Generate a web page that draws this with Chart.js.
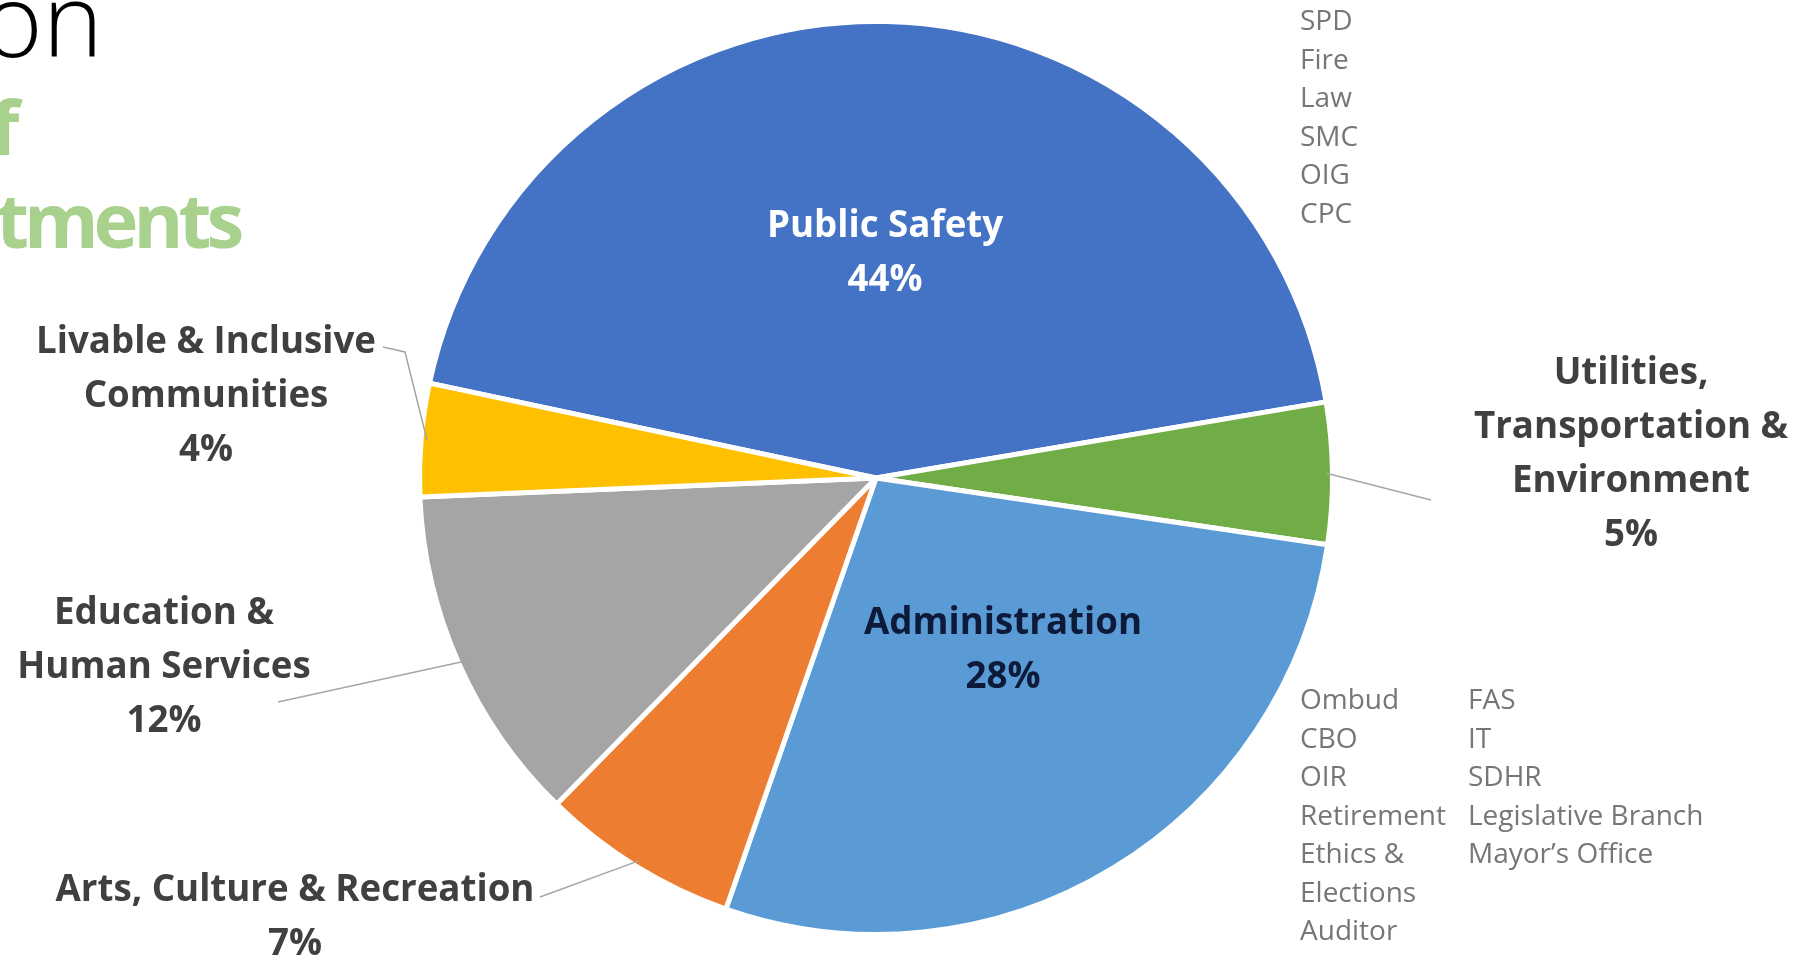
<!DOCTYPE html>
<html>
<head>
<meta charset="utf-8">
<script src="https://cdn.jsdelivr.net/npm/chart.js@4"></script>
<style>
    body { margin: 0; background: #fff; overflow: hidden; }
    #wrap { position: relative; width: 1814px; height: 958px; overflow: hidden; }
    #chart { position: absolute; left: 0; top: 0; }
    .title { position: absolute; line-height: 1; white-space: nowrap; font-family: 'Open Sans', sans-serif; }
    .dept { position: absolute; font-family: 'Open Sans', sans-serif; font-size: 28px; line-height: 38.5px; color: #767676; white-space: nowrap; }
</style>
</head>
<body>
<div id="wrap">
    <canvas id="chart" width="1814" height="958"></canvas>
    <div class="title" style="left:-17px; top:-33px; font-size:102px; font-weight:300; color:#000;">on</div>
    <div class="title" style="left:-10px; top:88px; font-size:76px; font-weight:700; color:#A9D18E;">f</div>
    <div class="title" style="left:-4px; top:181px; font-size:76px; font-weight:700; color:#A9D18E; letter-spacing:-5px;">tments</div>
    <div class="dept" id="psList" style="left:1300px; top:0px;"></div>
    <div class="dept" id="adminList1" style="left:1300px; top:679px;"></div>
    <div class="dept" id="adminList2" style="left:1468px; top:679px;"></div>
</div>
<script>
// slice data, clockwise starting with Public Safety
const categories = ['Public Safety', 'Utilities, Transportation & Environment', 'Administration',
    'Arts, Culture & Recreation', 'Education & Human Services', 'Livable & Inclusive Communities'];
const shares = [44, 5, 28, 7, 12, 4];
const labelLines = [
    ['Public Safety'],
    ['Utilities,', 'Transportation &', 'Environment'],
    ['Administration'],
    ['Arts, Culture & Recreation'],
    ['Education &', 'Human Services'],
    ['Livable & Inclusive', 'Communities']
];
const publicSafetyDepts = ['SPD', 'Fire', 'Law', 'SMC', 'OIG', 'CPC'];
const adminDeptsCol1 = ['Ombud', 'CBO', 'OIR', 'Retirement', 'Ethics &', 'Elections', 'Auditor'];
const adminDeptsCol2 = ['FAS', 'IT', 'SDHR', 'Legislative Branch', 'Mayor\u2019s Office'];

const sliceColors = ['#4472C4', '#70AD47', '#5B9BD5', '#ED7D31', '#A5A5A5', '#FFC000'];

// where each label block goes (first line centre) and its leader line, if any
const labelLayout = [
    { x: 885, y: 227, color: '#ffffff', leader: null },
    { x: 1631, y: 374, color: '#404040', leader: [[1431, 500]] },
    { x: 1003, y: 624, color: '#0e1a3a', leader: null },
    { x: 295, y: 891, color: '#404040', leader: [[540, 897]] },
    { x: 164, y: 614, color: '#404040', leader: [[278, 702]] },
    { x: 206, y: 343, color: '#404040', leader: [[383, 347], [405, 352]] }
];
const lineGap = 54;

document.getElementById('psList').innerHTML = publicSafetyDepts.join('<br>');
document.getElementById('adminList1').innerHTML = adminDeptsCol1.join('<br>');
document.getElementById('adminList2').innerHTML = adminDeptsCol2.join('<br>');

const sliceLabels = {
    id: 'sliceLabels',
    afterDatasetsDraw(chart) {
        const ctx = chart.ctx;
        const meta = chart.getDatasetMeta(0);
        meta.data.forEach((arc, i) => {
            const p = arc.getProps(['x', 'y', 'startAngle', 'endAngle', 'outerRadius'], true);
            const mid = (p.startAngle + p.endAngle) / 2;
            const lay = labelLayout[i];

            if (lay.leader) {
                const ex = p.x + Math.cos(mid) * (p.outerRadius - 6);
                const ey = p.y + Math.sin(mid) * (p.outerRadius - 6);
                ctx.save();
                ctx.strokeStyle = '#a6a6a6';
                ctx.lineWidth = 1.5;
                ctx.beginPath();
                ctx.moveTo(lay.leader[0][0], lay.leader[0][1]);
                lay.leader.slice(1).forEach(pt => ctx.lineTo(pt[0], pt[1]));
                ctx.lineTo(ex, ey);
                ctx.stroke();
                ctx.restore();
            }

            const lines = labelLines[i].concat([shares[i] + '%']);
            ctx.save();
            ctx.fillStyle = lay.color;
            ctx.font = 'bold 36.7px "Open Sans", sans-serif';
            ctx.textAlign = 'center';
            ctx.textBaseline = 'middle';
            lines.forEach((t, k) => ctx.fillText(t, lay.x, lay.y + k * lineGap));
            ctx.restore();
        });
    }
};

const chart = new Chart(document.getElementById('chart').getContext('2d'), {
    type: 'pie',
    data: {
        labels: categories,
        datasets: [{
            data: shares,
            backgroundColor: sliceColors,
            borderColor: '#ffffff',
            borderWidth: 5,
        }],
    },
    options: {
        responsive: false,
        animation: false,
        rotation: 282,
        layout: { padding: { left: 0, right: 62, top: 19, bottom: 21 } },
        plugins: {
            legend: { display: false },
            tooltip: { enabled: false },
        },
    },
    plugins: [sliceLabels],
});
</script>
</body>
</html>
